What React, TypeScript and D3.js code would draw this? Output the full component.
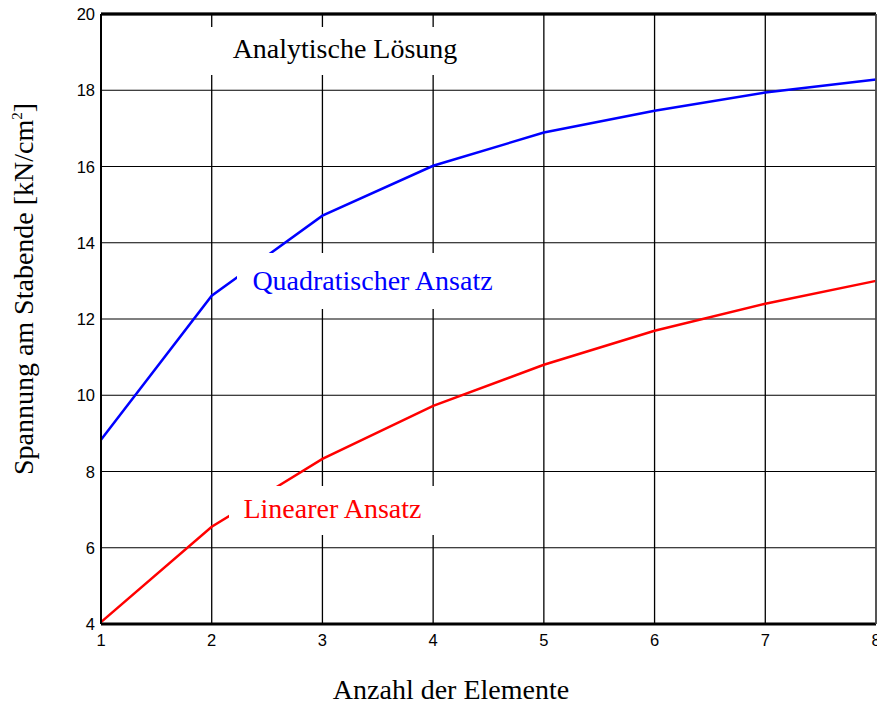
import React from "react";
import * as d3 from "d3";

const elements = [1, 2, 3, 4, 5, 6, 7, 8];
const quadratic = [8.83, 12.61, 14.71, 16.02, 16.89, 17.46, 17.94, 18.28];
const linear = [4.05, 6.55, 8.33, 9.72, 10.8, 11.69, 12.4, 13.0];
const analytic = [20, 20, 20, 20, 20, 20, 20, 20];
const xTicks = [1, 2, 3, 4, 5, 6, 7, 8];
const yTicks = [4, 6, 8, 10, 12, 14, 16, 18, 20];

const W = 877;
const H = 705;
const left = 101;
const right = 876;
const top = 14;
const bottom = 624;

export default function App() {
  const x = d3.scaleLinear().domain([1, 8]).range([left, right]);
  const y = d3.scaleLinear().domain([4, 20]).range([bottom, top]);
  const line = d3
    .line<number>()
    .x((_, i) => x(elements[i]))
    .y((d) => y(d));

  const serif = "'Liberation Serif', 'Times New Roman', serif";
  const sans = "'Liberation Sans', Arial, sans-serif";

  return (
    <div style={{ position: "absolute", left: 0, top: 0 }}>
      <svg width={W} height={H} style={{ display: "block" }}>
        <rect x={0} y={0} width={W} height={H} fill="#fff" />
        {/* grid */}
        {xTicks.map((t) => (
          <line key={"gx" + t} x1={x(t)} x2={x(t)} y1={top} y2={bottom} stroke="#000" strokeWidth={1.3} />
        ))}
        {yTicks.map((t) => (
          <line key={"gy" + t} x1={left} x2={right} y1={y(t)} y2={y(t)} stroke="#000" strokeWidth={1.1} />
        ))}
        {/* data */}
        <path d={line(analytic) || ""} fill="none" stroke="#000" strokeWidth={2.5} />
        <path d={line(quadratic) || ""} fill="none" stroke="#0000ff" strokeWidth={2.5} />
        <path d={line(linear) || ""} fill="none" stroke="#ff0000" strokeWidth={2.5} />
        {/* frame */}
        <line x1={left} x2={right} y1={top} y2={top} stroke="#000" strokeWidth={3} />
        <line x1={left} x2={right} y1={bottom} y2={bottom} stroke="#000" strokeWidth={3} />
        <line x1={left} x2={left} y1={top} y2={bottom} stroke="#000" strokeWidth={2} />
        <line x1={right} x2={right} y1={top} y2={bottom} stroke="#555" strokeWidth={1.5} />
        {/* labels with white boxes */}
        <rect x={200} y={27} width={280} height={48} fill="#fff" />
        <text x={345} y={58} textAnchor="middle" fontFamily={serif} fontSize={28} fill="#000">
          Analytische Lösung
        </text>
        <rect x={237} y={253} width={280} height={56} fill="#fff" />
        <text x={372.5} y={290} textAnchor="middle" fontFamily={serif} fontSize={28} fill="#0000ff">
          Quadratischer Ansatz
        </text>
        <rect x={229} y={486} width={215} height={49} fill="#fff" />
        <text x={332.5} y={518} textAnchor="middle" fontFamily={serif} fontSize={28} fill="#ff0000">
          Linearer Ansatz
        </text>
        {/* tick labels */}
        {yTicks.map((t) => (
          <text key={"ty" + t} x={95} y={y(t) + 6} textAnchor="end" fontFamily={sans} fontSize={16.5} fill="#000">
            {t}
          </text>
        ))}
        {xTicks.map((t) => (
          <text key={"tx" + t} x={x(t)} y={646} textAnchor="middle" fontFamily={sans} fontSize={16.5} fill="#000">
            {t}
          </text>
        ))}
        {/* axis titles */}
        <text x={451} y={699} textAnchor="middle" fontFamily={serif} fontSize={28} fill="#000">
          Anzahl der Elemente
        </text>
        <text
          transform="translate(33,289) rotate(-90)"
          textAnchor="middle"
          fontFamily={serif}
          fontSize={28}
          fill="#000"
        >
          Spannung am Stabende [kN/cm
          <tspan dy={-11} fontSize={15}>2</tspan>
          <tspan dy={11}>]</tspan>
        </text>
      </svg>
    </div>
  );
}
